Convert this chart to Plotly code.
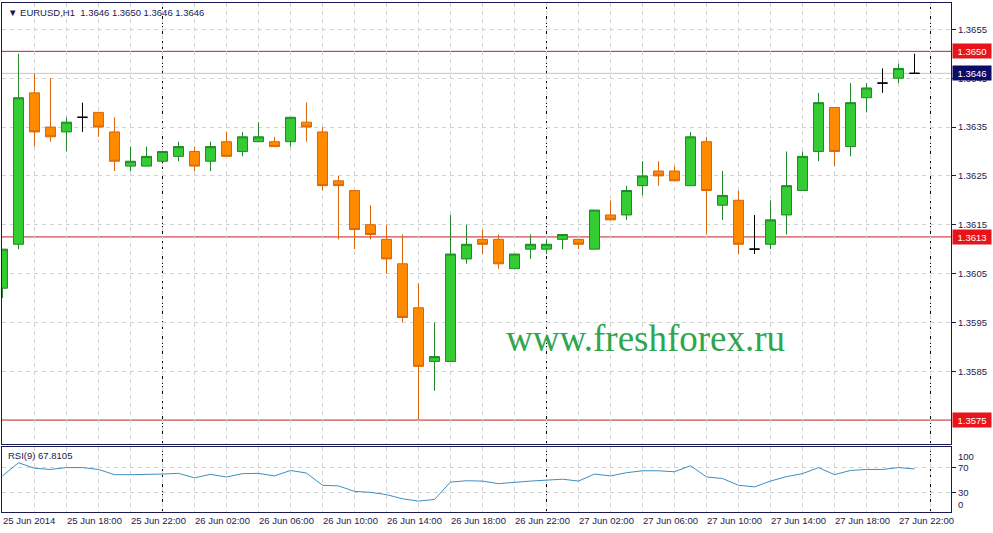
import plotly.graph_objects as go

# ---------------- data (EURUSD H1, 25 Jun 14:00 .. 27 Jun 23:00) ----------------
opens = [1.3602, 1.3611, 1.3642, 1.3635, 1.3634, 1.3637, 1.3638, 1.3634, 1.3627, 1.3627,
         1.3628, 1.3629, 1.3630, 1.3628, 1.3632, 1.3630, 1.3632, 1.3632, 1.3632, 1.3636,
         1.3634, 1.3624, 1.3622, 1.3615, 1.3612, 1.3607, 1.3598, 1.3587, 1.3587, 1.3608,
         1.3612, 1.3612, 1.3606, 1.3610, 1.3610, 1.3612, 1.3612, 1.3610, 1.3617, 1.3617,
         1.3623, 1.3626, 1.3626, 1.3623, 1.3632, 1.3619, 1.3620, 1.3610, 1.3611, 1.3617,
         1.3622, 1.3630, 1.3639, 1.3631, 1.3641, 1.3644, 1.3645, 1.3646]
highs = [1.3610, 1.3650, 1.3646, 1.3645, 1.3637, 1.3640, 1.3638, 1.3637, 1.3631, 1.3631,
         1.3630, 1.3632, 1.3631, 1.3632, 1.3634, 1.3634, 1.3636, 1.3633, 1.3637, 1.3640,
         1.3635, 1.3625, 1.3622, 1.3619, 1.3615, 1.3613, 1.3603, 1.3595, 1.3617, 1.3615,
         1.3614, 1.3613, 1.3609, 1.3613, 1.3612, 1.3613, 1.3612, 1.3618, 1.3620, 1.3623,
         1.3628, 1.3628, 1.3627, 1.3634, 1.3633, 1.3626, 1.3622, 1.3617, 1.3620, 1.3630,
         1.3630, 1.3642, 1.3639, 1.3644, 1.3644, 1.3647, 1.3648, 1.3650]
lows = [1.3600, 1.3610, 1.3631, 1.3632, 1.3630, 1.3634, 1.3633, 1.3626, 1.3626, 1.3627,
        1.3628, 1.3628, 1.3626, 1.3626, 1.3629, 1.3629, 1.3632, 1.3631, 1.3631, 1.3632,
        1.3622, 1.3612, 1.3610, 1.3612, 1.3605, 1.3595, 1.3575, 1.3581, 1.3587, 1.3607,
        1.3609, 1.3606, 1.3606, 1.3608, 1.3609, 1.3610, 1.3610, 1.3610, 1.3616, 1.3616,
        1.3621, 1.3623, 1.3624, 1.3623, 1.3613, 1.3616, 1.3609, 1.3609, 1.3610, 1.3613,
        1.3622, 1.3628, 1.3627, 1.3629, 1.3638, 1.3642, 1.3644, 1.3646]
closes = [1.3610, 1.3641, 1.3634, 1.3633, 1.3636, 1.3637, 1.3635, 1.3628, 1.3628, 1.3629,
          1.3630, 1.3631, 1.3627, 1.3631, 1.3629, 1.3633, 1.3633, 1.3631, 1.3637, 1.3635,
          1.3623, 1.3623, 1.3614, 1.3613, 1.3608, 1.3596, 1.3586, 1.3588, 1.3609, 1.3611,
          1.3611, 1.3607, 1.3609, 1.3611, 1.3611, 1.3613, 1.3611, 1.3618, 1.3616, 1.3622,
          1.3625, 1.3625, 1.3624, 1.3633, 1.3622, 1.3621, 1.3611, 1.3610, 1.3616, 1.3623,
          1.3629, 1.3640, 1.3630, 1.3640, 1.3643, 1.3644, 1.3647, 1.3646]
rsi = [56.7, 77.7, 69.0, 67.0, 70.0, 70.0, 67.0, 58.7, 58.7, 58.7,
       59.7, 60.8, 53.6, 59.2, 55.0, 60.3, 60.8, 56.7, 65.4, 61.3,
       41.8, 40.8, 32.0, 30.5, 26.9, 20.2, 16.6, 19.2, 46.9, 49.0,
       48.5, 44.4, 46.9, 48.5, 50.0, 51.5, 48.5, 59.7, 56.7, 61.8,
       64.9, 64.9, 63.3, 73.0, 55.1, 52.6, 41.8, 39.2, 48.5, 55.6,
       60.3, 70.0, 58.7, 65.4, 67.0, 67.0, 70.0, 67.8]
tick_labels = ["25 Jun 2014", "25 Jun 18:00", "25 Jun 22:00", "26 Jun 02:00", "26 Jun 06:00",
               "26 Jun 10:00", "26 Jun 14:00", "26 Jun 18:00", "26 Jun 22:00", "27 Jun 02:00",
               "27 Jun 06:00", "27 Jun 10:00", "27 Jun 14:00", "27 Jun 18:00", "27 Jun 22:00"]
price_ticks = [1.3655, 1.3645, 1.3635, 1.3625, 1.3615, 1.3605, 1.3595, 1.3585]
levels = [1.36505, 1.36125, 1.3575]
level_labels = ["1.3650", "1.3613", "1.3575"]
bid = 1.3646
day_starts = [10, 34, 58]          # bar index of 26, 27, 28 Jun 00:00
header = "EURUSD,H1  1.3646 1.3650 1.3646 1.3646"
rsi_title = "RSI(9) 67.8105"

# ---------------- styling ----------------
GREEN, GREEN_LN = "#33cc33", "#23862a"
ORANGE, ORANGE_LN = "#ff8a00", "#d8660f"
NAVY = "#1a1a52"
GRID = "#d2d2d2"
RED = "#c41e1e"
FONT = "Liberation Sans, Arial, sans-serif"
FS = 9.5

n = len(opens)
xs = list(range(n))
doji = [o == c for o, c in zip(opens, closes)]


def sel(arr, flag):
    return [v for v, d in zip(arr, doji) if d == flag]


fig = go.Figure()
fig.add_trace(go.Candlestick(
    x=sel(xs, False), open=sel(opens, False), high=sel(highs, False),
    low=sel(lows, False), close=sel(closes, False),
    increasing=dict(line=dict(color=GREEN_LN, width=1), fillcolor=GREEN),
    decreasing=dict(line=dict(color=ORANGE_LN, width=1), fillcolor=ORANGE),
    whiskerwidth=0, showlegend=False, hoverinfo="skip", xaxis="x", yaxis="y"))
fig.add_trace(go.Candlestick(
    x=sel(xs, True), open=sel(opens, True), high=sel(highs, True),
    low=sel(lows, True), close=sel(closes, True),
    increasing=dict(line=dict(color="black", width=1), fillcolor="black"),
    decreasing=dict(line=dict(color="black", width=1), fillcolor="black"),
    whiskerwidth=0, showlegend=False, hoverinfo="skip", xaxis="x", yaxis="y"))
fig.add_trace(go.Scatter(x=xs, y=rsi, mode="lines", line=dict(color="#3b8fc0", width=1),
                         showlegend=False, hoverinfo="skip", xaxis="x2", yaxis="y2"))

grid_vals = list(range(0, n + 1, 2))
grid_text = [tick_labels[v // 4] if v % 4 == 0 and v // 4 < len(tick_labels) else "" for v in grid_vals]
xr = [-0.03, 59.28]

common_x = dict(range=xr, tickmode="array", tickvals=grid_vals, showgrid=True, gridcolor=GRID,
                griddash="4px,4px", gridwidth=1, zeroline=False, showline=True, mirror=True,
                linecolor=NAVY, linewidth=1, ticks="", fixedrange=True)
common_y = dict(side="right", showgrid=True, gridcolor=GRID, griddash="4px,4px", zeroline=False,
                showline=True, mirror=True, linecolor=NAVY, linewidth=1, ticks="outside",
                ticklen=4, tickcolor=NAVY, tickfont=dict(family=FONT, size=FS, color=NAVY),
                fixedrange=True)

fig.update_layout(
    width=993, height=533, margin=dict(l=2, r=42, t=3, b=21),
    paper_bgcolor="white", plot_bgcolor="white", showlegend=False,
    boxgap=0.375, boxgroupgap=0, boxmode="overlay",
    xaxis=dict(common_x, anchor="y", showticklabels=False, rangeslider=dict(visible=False)),
    xaxis2=dict(common_x, anchor="y2", matches="x", ticktext=grid_text, showticklabels=True,
                ticklabelposition="outside right",
                tickfont=dict(family=FONT, size=FS, color=NAVY)),
    yaxis=dict(common_y, domain=[0.1336, 1], range=[1.35701, 1.36604],
               tickmode="array", tickvals=price_ticks, ticktext=[f"{v:.4f}" for v in price_ticks]),
    yaxis2=dict(common_y, domain=[0, 0.1277], range=[-0.8, 102.8], tickmode="array",
                tickvals=[70, 30], ticktext=["70", "30"]),
)

shapes = []
for d in day_starts:
    for yr in ("y domain", "y2 domain"):
        shapes.append(dict(type="line", xref="x", yref=yr, x0=d, x1=d, y0=0, y1=1,
                           line=dict(color="black", width=1, dash="3px,2px"), layer="below"))
shapes.append(dict(type="line", xref="x domain", yref="y", x0=0, x1=1, y0=bid, y1=bid,
                   line=dict(color="#c4c4c4", width=1), layer="below"))
for lv in levels:
    shapes.append(dict(type="line", xref="x domain", yref="y", x0=0, x1=1, y0=lv, y1=lv,
                       line=dict(color=RED, width=1), layer="below"))
fig.update_layout(shapes=shapes)

ann = []
for lv, txt in zip(levels, level_labels):
    ann.append(dict(xref="paper", x=1, xanchor="left", xshift=1, yref="y", y=lv, text=txt,
                    showarrow=False, bgcolor="#e8141c", width=36, height=12,
                    font=dict(family=FONT, size=FS, color="white")))
ann.append(dict(xref="paper", x=1, xanchor="left", xshift=1, yref="y", y=bid, text=f"{bid:.4f}",
                showarrow=False, bgcolor="#0c0c66", width=36, height=12,
                font=dict(family=FONT, size=FS, color="white")))
ann.append(dict(xref="paper", x=0, xanchor="left", xshift=4, yref="y domain", y=1, yanchor="top",
                yshift=-2, text="▼ " + header, showarrow=False,
                font=dict(family=FONT, size=FS, color=NAVY)))
ann.append(dict(xref="paper", x=0, xanchor="left", xshift=4, yref="y2 domain", y=1, yanchor="top",
                yshift=-1, text=rsi_title, showarrow=False,
                font=dict(family=FONT, size=FS, color=NAVY)))
ann.append(dict(xref="paper", x=1, xanchor="left", xshift=5, yref="y2", y=100, yanchor="top",
                text="100", showarrow=False, font=dict(family=FONT, size=FS, color=NAVY)))
ann.append(dict(xref="paper", x=1, xanchor="left", xshift=5, yref="y2", y=0, yanchor="bottom",
                text="0", showarrow=False, font=dict(family=FONT, size=FS, color=NAVY)))
ann.append(dict(xref="x", x=40.16, yref="y", y=1.35918, text="www.freshforex.ru",
                showarrow=False, font=dict(family="Liberation Serif, Times New Roman, serif",
                                           size=37, color="#2ea64e")))
fig.update_layout(annotations=ann)

fig.write_html("out.html", config={"displayModeBar": False},
               post_script="document.body.style.margin='0';document.body.style.overflow='hidden';")
